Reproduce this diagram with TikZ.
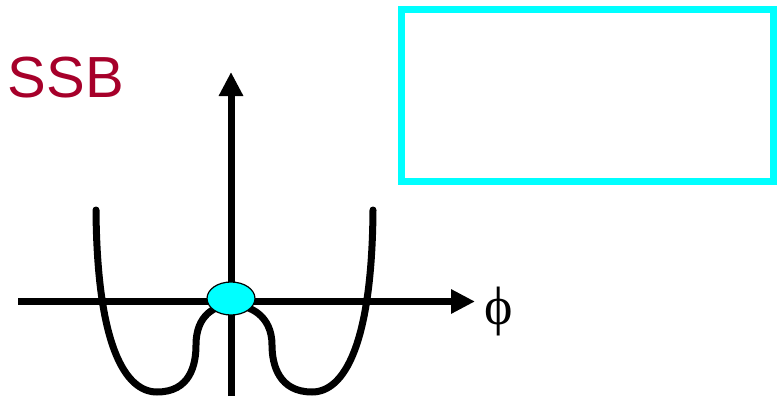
\documentclass[tikz,border=0pt]{standalone}
\usepackage{fontspec}
\setmainfont{Liberation Serif}
\newfontfamily\arialfont{Liberation Sans}
\usepackage{tikz}
\usetikzlibrary{arrows.meta, positioning, shapes.geometric}

\definecolor{ssbred}{HTML}{A6002A}
\definecolor{boxcyan}{HTML}{00FFFF}

\begin{document}
\begin{tikzpicture}[x=1pt, y=-1pt,
  axis/.style={line width=7pt, -{Triangle[length=24pt, width=23pt]}},
  pot/.style={line width=7pt, line cap=round},
  vacuum/.style={ellipse, draw=black, line width=1.2pt, fill=boxcyan,
                 minimum width=48pt, minimum height=33pt, inner sep=0pt},
  frame/.style={rectangle, draw=boxcyan, line width=7pt,
                minimum width=372pt, minimum height=171pt, inner sep=0pt}
]
  \useasboundingbox (0,0) rectangle (779,404);

  % label and empty box
  \node[font=\arialfont\fontsize{58}{58}\selectfont, text=ssbred] (ssb) at (66,78) {SSB};
  \node[frame] (box) at (587,95.5) {};

  % axes
  \coordinate (xl) at (18,301.5);
  \coordinate (xr) at (475,301.5);
  \coordinate (yb) at (231,396);
  \coordinate (yt) at (231,72);
  \draw[axis] (xl) -- (xr);
  \draw[axis] (yb) -- (yt);
  \node[font=\fontsize{54}{54}\selectfont, right=6pt of xr, yshift=-10pt] (phi) {\char"03D5};

  % double-well potential
  \draw[pot] (96,210) .. controls (97,345) and (125,392) .. (157,392)
    .. controls (190,392) and (196,365) .. (196,345)
    .. controls (196,315) and (215,305) .. (231,305);
  \draw[pot] (373,210) .. controls (372,345) and (344,392) .. (312,392)
    .. controls (279,392) and (272,365) .. (272,345)
    .. controls (272,315) and (249,305) .. (233,305);

  % false vacuum
  \node[vacuum] (vac) at (231,298.5) {};
\end{tikzpicture}
\end{document}
